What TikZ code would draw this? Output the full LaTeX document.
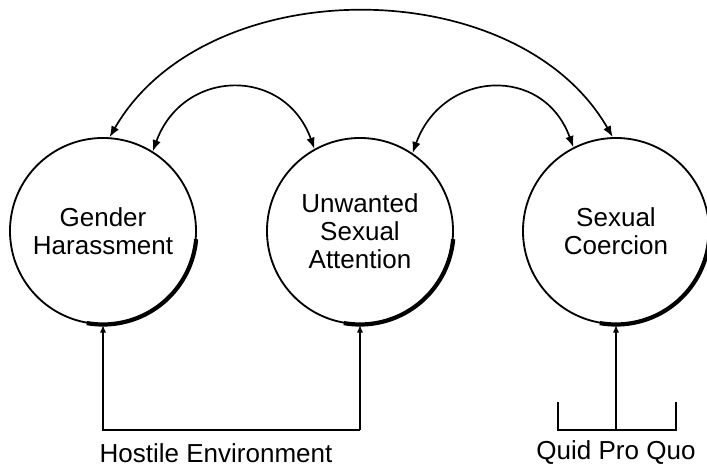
\documentclass[tikz,border=0pt]{standalone}
\usepackage{fontspec}
\setmainfont{Liberation Sans}
\usetikzlibrary{arrows.meta}
\begin{document}
\begin{tikzpicture}[x=0.025cm, y=-0.025cm,
        factor/.style={circle, draw, line width=1.3pt, minimum size=4.65cm, inner sep=0pt, align=center,
            font=\fontsize{18.5}{19.9}\selectfont},
        link/.style={{Latex[length=8pt,width=6pt]}-{Latex[length=8pt,width=6pt]}, line width=1.2pt},
        feed/.style={{Latex[length=5.5pt,width=4.5pt]}-, line width=1.2pt},
        tag/.style={font=\fontsize{18.5}{20}\selectfont}]
    \useasboundingbox (0,0) rectangle (707,466);

    \node[factor] (gender)   at (103,231) {Gender\\Harassment};
    \node[factor] (unwanted) at (360,231) {Unwanted\\Sexual\\Attention};
    \node[factor] (coercion) at (616,231) {Sexual\\Coercion};

    % heavier rim at the lower right
    \foreach \name in {gender,unwanted,coercion}
        \draw[line width=3pt] (\name.center) ++(5:93.5) arc[start angle=5, end angle=100, radius=93.5];

    \draw[link] (gender.58) .. controls +(30,-83) and +(-30,-83) .. (unwanted.119);
    \draw[link] (unwanted.56) .. controls +(30,-83) and +(-30,-83) .. (coercion.117);
    \draw[link] (gender.86) .. controls +(96,-167) and +(-96,-167) .. (coercion.92);

    \coordinate (hl) at (103,430);
    \coordinate (hr) at (360,430);
    \draw[feed] (gender.south) -- (hl) -- (hr);
    \draw[feed] (unwanted.south) -- (hr);
    \node[tag] (hostile) at (216,453) {Hostile Environment};

    \coordinate (ql) at (558,402);
    \coordinate (qr) at (676,402);
    \coordinate (qm) at (616,430);
    \draw[line width=1.2pt] (ql) |- (qm) -| (qr);
    \draw[feed] (coercion.south) -- (qm);
    \node[tag] (quid) at (616,453) {Quid Pro Quo};
\end{tikzpicture}
\end{document}
